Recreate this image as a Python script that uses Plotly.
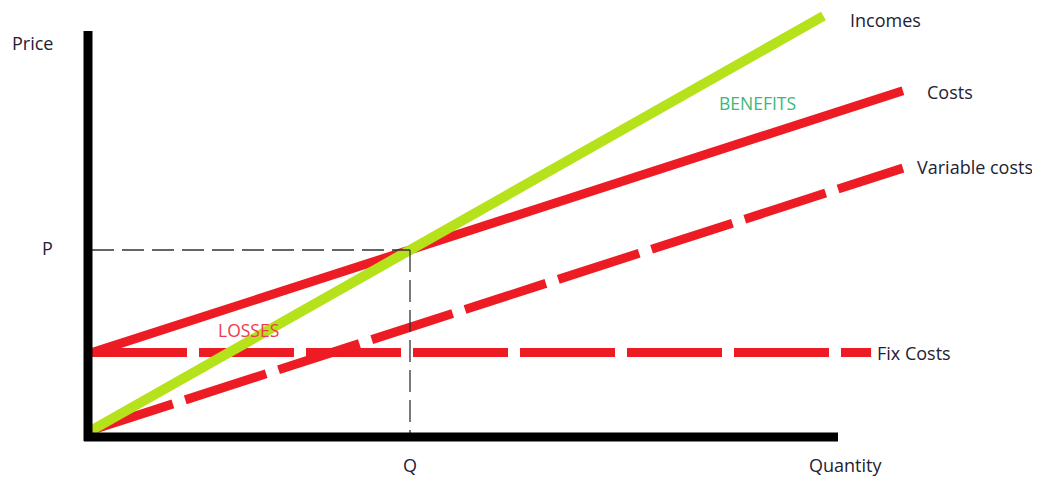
import plotly.graph_objects as go

# ---------------- data ----------------
Q_break = 100          # break-even quantity
P_break = 100          # break-even price / revenue level
quantity_incomes = [0, 230]
incomes = [0, 230]
quantity_costs = [0, 255]
costs = [43, 188.5]
quantity_variable = [0, 255]
variable_costs = [0, 145.5]
quantity_fixed = [0, 245]
fixed_costs = [43, 43]

# ---------------- layout helpers (window pixel <-> data) ----------------
W, H = 1040, 477
OFF = 8                   # page body margin offset of the figure in the window
X0_PX, SX = 92, 3.18      # window x pixel of quantity 0, px per unit
Y0_PX, SY = 430, 1.8      # window y pixel of price 0, px per unit


def dx(px):
    return (px - X0_PX) / SX


def dy(py):
    return (Y0_PX - py) / SY


RED = "#ed1c24"
GREEN = "#b5e21b"
TXT = "#222233"
FONT = "Open Sans"

fig = go.Figure()

fig.add_trace(go.Scatter(x=quantity_fixed, y=fixed_costs, mode="lines",
                         line=dict(color=RED, width=9, dash="95px,12px"),
                         hoverinfo="skip", showlegend=False))
fig.add_trace(go.Scatter(x=quantity_variable, y=variable_costs, mode="lines",
                         line=dict(color=RED, width=9, dash="85px,13px"),
                         hoverinfo="skip", showlegend=False))
fig.add_trace(go.Scatter(x=quantity_costs, y=costs, mode="lines",
                         line=dict(color=RED, width=9),
                         hoverinfo="skip", showlegend=False))
fig.add_trace(go.Scatter(x=quantity_incomes, y=incomes, mode="lines",
                         line=dict(color=GREEN, width=10),
                         hoverinfo="skip", showlegend=False))

# break-even guide lines
fig.add_trace(go.Scatter(x=[0, Q_break], y=[P_break, P_break], mode="lines",
                         line=dict(color="#333333", width=1.3, dash="22px,8px"),
                         hoverinfo="skip", showlegend=False))
fig.add_trace(go.Scatter(x=[Q_break, Q_break], y=[P_break, dy(437)], mode="lines",
                         line=dict(color="#333333", width=1.3, dash="22px,8px"),
                         hoverinfo="skip", showlegend=False))

# thick black axes
shapes = [
    dict(type="line", xref="x", yref="y", x0=dx(88), x1=dx(88), y0=dy(31), y1=dy(441),
         line=dict(color="black", width=9), layer="above"),
    dict(type="line", xref="x", yref="y", x0=dx(84), x1=dx(838), y0=dy(437), y1=dy(437),
         line=dict(color="black", width=9), layer="above"),
]

labels = [
    ("Price", 32, 43, TXT, 18),
    ("P", 47, 248, TXT, 18),
    ("Q", 410, 465, TXT, 18),
    ("Quantity", 845, 465, TXT, 18),
    ("Incomes", 885, 20, TXT, 18),
    ("Costs", 950, 92, TXT, 18),
    ("Variable costs", 975, 167, TXT, 18),
    ("Fix Costs", 914, 353, TXT, 18),
    ("BENEFITS", 757, 103, "#3cb878", 17.5),
    ("LOSSES", 248, 330, "#ee3b4e", 17.5),
]
annotations = [
    dict(text=t, x=dx(px), y=dy(py), xref="x", yref="y", showarrow=False,
         xanchor="center", yanchor="middle", borderpad=0,
         font=dict(family=FONT, size=s, color=c))
    for t, px, py, c, s in labels
]

fig.update_layout(
    width=W, height=H,
    margin=dict(l=0, r=0, t=0, b=0),
    paper_bgcolor="white", plot_bgcolor="white",
    xaxis=dict(range=[dx(OFF), dx(W + OFF)], visible=False, fixedrange=True),
    yaxis=dict(range=[dy(H + OFF), dy(OFF)], visible=False, fixedrange=True),
    shapes=shapes, annotations=annotations,
    showlegend=False,
)

fig.write_html("out.html", config={"displayModeBar": False})
